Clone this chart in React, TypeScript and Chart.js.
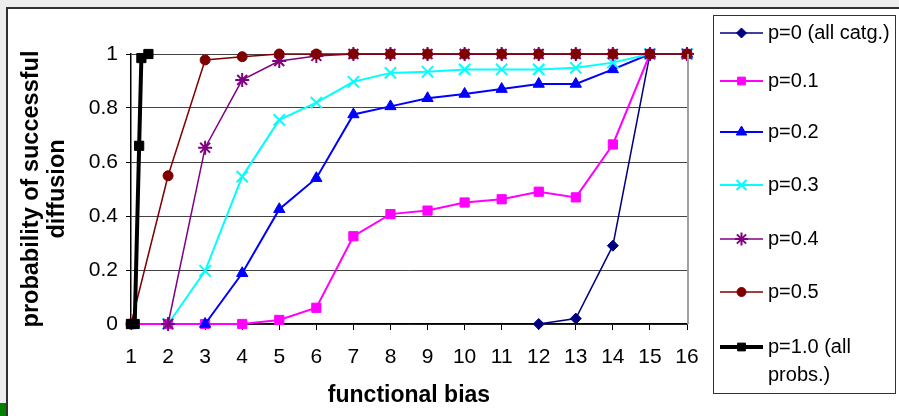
import React, { useEffect, useRef } from 'react';
import { Chart, registerables } from 'chart.js';
import { drawPoint } from 'chart.js/helpers';

Chart.register(...registerables);

// ---- data ----
const xCategories = [1, 2, 3, 4, 5, 6, 7, 8, 9, 10, 11, 12, 13, 14, 15, 16];
const yTickValues = [0, 0.2, 0.4, 0.6, 0.8, 1];
const seriesLabels = ['p=0 (all catg.)', 'p=0.1', 'p=0.2', 'p=0.3', 'p=0.4', 'p=0.5', 'p=1.0 (all probs.)'];

const p00 = [null, null, null, null, null, null, null, null, null, null, null, 0, 0.02, 0.29, 1, 1];
const p01 = [0, 0, 0, 0, 0.015, 0.06, 0.325, 0.407, 0.42, 0.45, 0.462, 0.49, 0.469, 0.665, 1, 1];
const p02 = [null, null, 0, 0.188, 0.425, 0.54, 0.776, 0.806, 0.836, 0.852, 0.87, 0.889, 0.889, 0.943, 1, 1];
const p03 = [null, 0, 0.197, 0.546, 0.756, 0.82, 0.897, 0.93, 0.934, 0.943, 0.943, 0.943, 0.949, 0.968, 1, 1];
const p04 = [null, 0, 0.653, 0.904, 0.974, 0.993, 1, 1, 1, 1, 1, 1, 1, 1, 1, 1];
const p05 = [0, 0.549, 0.978, 0.99, 1, 1, 1, 1, 1, 1, 1, 1, 1, 1, 1, 1];
const p10X = [1, 1.1, 1.22, 1.28, 1.47];
const p10Y = [0, 0, 0.66, 0.985, 1];

// ---- styles ----
const styles = [
  { color: '#000080', pointStyle: 'rectRot', radius: 5.5, lineWidth: 1.5, legendRadius: 5 },
  { color: '#FF00FF', pointStyle: 'rect', radius: 6.5, lineWidth: 2, legendRadius: 5.5 },
  { color: '#0000FF', pointStyle: 'triangle', radius: 6.5, lineWidth: 2, legendRadius: 6 },
  { color: '#00FFFF', pointStyle: 'crossRot', radius: 8, lineWidth: 2, legendRadius: 7 },
  { color: '#800080', pointStyle: 'star', radius: 7, lineWidth: 1.5, legendRadius: 6.5 },
  { color: '#800000', pointStyle: 'circle', radius: 5, lineWidth: 1.5, legendRadius: 4.5 },
  { color: '#000000', pointStyle: 'rect', radius: 6.5, lineWidth: 4, legendRadius: 5.5 },
];

const toPoints = (xs: number[], ys: (number | null)[]) =>
  xs.map((x, i) => ({ x, y: ys[i] })).filter((p) => p.y !== null) as { x: number; y: number }[];

const FONT = '"Liberation Sans", Arial, sans-serif';

const framePlugin = {
  id: 'frame',
  beforeDraw(chart: any) {
    const ctx = chart.ctx;
    const W = chart.width;
    const H = chart.height;
    ctx.save();
    ctx.fillStyle = '#ededed';
    ctx.fillRect(0, 0, W, H);
    ctx.fillStyle = '#ffffff';
    ctx.fillRect(7, 8, W - 7, H - 8);
    ctx.strokeStyle = '#303030';
    ctx.lineWidth = 2;
    ctx.beginPath();
    ctx.moveTo(7, H);
    ctx.lineTo(7, 8);
    ctx.lineTo(W, 8);
    ctx.stroke();
    ctx.fillStyle = '#008000';
    ctx.fillRect(0, 403, 6, 13);
    ctx.restore();
  },
  afterDatasetsDraw(chart: any) {
    const ctx = chart.ctx;
    const a = chart.chartArea;
    ctx.save();
    ctx.strokeStyle = '#a0a0a0';
    ctx.lineWidth = 2;
    ctx.beginPath();
    ctx.moveTo(a.right + 1, a.top);
    ctx.lineTo(a.right + 1, a.bottom);
    ctx.stroke();
    ctx.restore();
  },
  afterDraw(chart: any) {
    const ctx = chart.ctx;
    ctx.save();
    // legend box
    const bx = 713, by = 15, bw = 182, bh = 378;
    ctx.fillStyle = '#ffffff';
    ctx.fillRect(bx, by, bw, bh);
    ctx.strokeStyle = '#333333';
    ctx.lineWidth = 1;
    ctx.strokeRect(bx + 0.5, by + 0.5, bw, bh);
    const rows = [33, 81, 132, 185, 239, 292, 347];
    ctx.font = `20px ${FONT}`;
    ctx.textBaseline = 'middle';
    ctx.textAlign = 'left';
    seriesLabels.forEach((label, i) => {
      const st = styles[i];
      const y = rows[i];
      ctx.strokeStyle = st.color;
      ctx.lineWidth = st.lineWidth;
      ctx.beginPath();
      ctx.moveTo(720, y);
      ctx.lineTo(763, y);
      ctx.stroke();
      ctx.fillStyle = st.color;
      ctx.strokeStyle = st.color;
      ctx.lineWidth = st.pointStyle === 'crossRot' || st.pointStyle === 'star' ? 2 : 1;
      drawPoint(ctx, { pointStyle: st.pointStyle, radius: st.legendRadius, rotation: 0, borderWidth: ctx.lineWidth }, 741.5, y);
      ctx.fillStyle = '#000000';
      if (i === 6) {
        ctx.fillText('p=1.0 (all', 768, y);
        ctx.fillText('probs.)', 768, y + 28);
      } else {
        ctx.fillText(label, 768, y);
      }
    });
    ctx.restore();
  },
};

export default function App() {
  const ref = useRef<HTMLCanvasElement | null>(null);
  useEffect(() => {
    if (!ref.current) return;
    const ys = [p00, p01, p02, p03, p04, p05];
    const datasets: any[] = ys.map((arr, i) => ({
      label: seriesLabels[i],
      data: toPoints(xCategories, arr),
      borderColor: styles[i].color,
      backgroundColor: styles[i].color,
      borderWidth: styles[i].lineWidth,
      pointStyle: styles[i].pointStyle,
      pointRadius: styles[i].radius,
      pointBorderWidth: styles[i].pointStyle === 'crossRot' || styles[i].pointStyle === 'star' ? 2 : 1,
      pointBorderColor: styles[i].color,
      pointBackgroundColor: styles[i].color,
      tension: 0,
      clip: false,
      order: 6 - i,
    }));
    datasets.push({
      label: seriesLabels[6],
      data: toPoints(p10X, p10Y),
      borderColor: styles[6].color,
      backgroundColor: styles[6].color,
      borderWidth: styles[6].lineWidth,
      pointStyle: styles[6].pointStyle,
      pointRadius: styles[6].radius,
      pointBorderWidth: 1,
      pointBackgroundColor: styles[6].color,
      tension: 0,
      clip: false,
      order: 0,
    });

    const chart = new Chart(ref.current, {
      type: 'line',
      data: { datasets },
      plugins: [framePlugin],
      options: {
        animation: false,
        responsive: false,
        devicePixelRatio: 1,
        layout: { padding: { left: 0, right: 212, top: 54, bottom: 0 } },
        plugins: { legend: { display: false }, tooltip: { enabled: false } },
        scales: {
          x: {
            type: 'linear',
            min: 1,
            max: 16,
            afterFit: (s: any) => { s.height = 92; },
            afterBuildTicks: (s: any) => { s.ticks = xCategories.map((v) => ({ value: v })); },
            ticks: {
              stepSize: 1,
              autoSkip: false,
              maxRotation: 0,
              padding: 15,
              color: '#000',
              font: { family: FONT, size: 21 },
            },
            grid: { drawOnChartArea: false, tickLength: 6, color: '#000', tickColor: '#000' },
            border: { color: '#000', width: 1.5 },
            title: {
              display: true,
              text: 'functional bias',
              color: '#000',
              font: { family: FONT, size: 23, weight: 'bold' },
              padding: { top: 0, bottom: 7 },
            },
          },
          y: {
            type: 'linear',
            min: 0,
            max: 1,
            afterFit: (s: any) => { s.width = 131; },
            afterBuildTicks: (s: any) => { s.ticks = yTickValues.map((v) => ({ value: v })); },
            ticks: {
              padding: 8,
              color: '#000',
              font: { family: FONT, size: 21 },
              callback: (v: any) => String(Number(v)),
            },
            grid: { color: '#444', lineWidth: 1, tickLength: 5, tickColor: '#000' },
            border: { color: '#000', width: 1.5 },
            title: {
              display: true,
              text: ['probability of successful', 'diffusion'],
              color: '#000',
              font: { family: FONT, size: 23.5, weight: 'bold', lineHeight: 1.1 },
              padding: { top: 19, bottom: 0 },
            },
          },
        },
      },
    });
    return () => chart.destroy();
  }, []);

  return (
    <div style={{ position: 'fixed', left: 0, top: 0, width: 899, height: 416 }}>
      <canvas ref={ref} width={899} height={416} style={{ width: 899, height: 416, display: 'block' }} />
    </div>
  );
}
